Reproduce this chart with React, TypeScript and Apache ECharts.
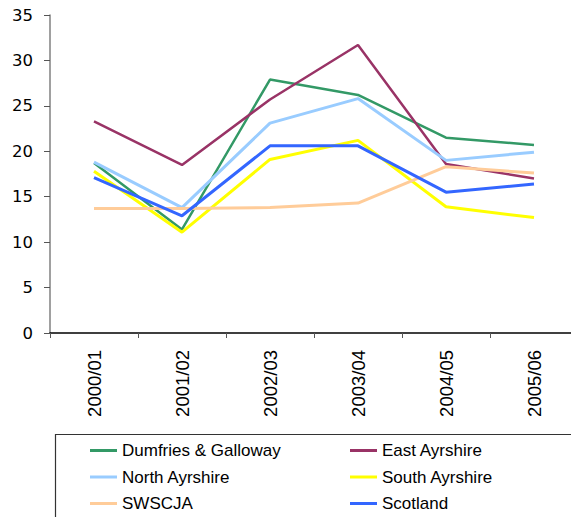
import React, { useEffect, useRef } from "react";
import * as echarts from "echarts";

const categories = ["2000/01", "2001/02", "2002/03", "2003/04", "2004/05", "2005/06"];
const yTicks = [0, 5, 10, 15, 20, 25, 30, 35];

const dumfries = [18.7, 11.4, 27.9, 26.2, 21.5, 20.7];
const eastAyrshire = [23.3, 18.5, 25.7, 31.7, 18.6, 17.0];
const northAyrshire = [18.8, 13.8, 23.1, 25.8, 19.0, 19.9];
const southAyrshire = [17.8, 11.1, 19.1, 21.2, 13.9, 12.7];
const swscja = [13.7, 13.7, 13.8, 14.3, 18.3, 17.6];
const scotland = [17.1, 12.9, 20.6, 20.6, 15.5, 16.4];

const seriesNames = [
  "Dumfries & Galloway",
  "East Ayrshire",
  "North Ayrshire",
  "South Ayrshire",
  "SWSCJA",
  "Scotland",
];
const seriesData = [dumfries, eastAyrshire, northAyrshire, southAyrshire, swscja, scotland];
const seriesColors = ["#339966", "#993366", "#99CCFF", "#FFFF00", "#FFCC99", "#3366FF"];
const seriesWidths = [2.5, 2.5, 3, 3, 3, 3];

export default function App() {
  const ref = useRef<HTMLDivElement>(null);
  useEffect(() => {
    if (!ref.current) return;
    const chart = echarts.init(ref.current, null, { renderer: "svg" });
    const legendText = { fontFamily: "Liberation Sans", fontSize: 17, color: "#000", lineHeight: 18 };
    chart.setOption({
      animation: false,
      backgroundColor: "#fff",
      grid: { left: 50, top: 15, right: 0, bottom: 184, containLabel: false },
      xAxis: {
        type: "category",
        data: categories,
        boundaryGap: true,
        axisLine: { lineStyle: { color: "#000", width: 1.5 } },
        axisTick: { show: true, length: 5, lineStyle: { color: "#555" } },
        axisLabel: {
          rotate: 90,
          margin: 17,
          fontFamily: "Liberation Sans",
          fontSize: 18.5,
          color: "#000",
        },
        splitLine: { show: false },
      },
      yAxis: {
        type: "value",
        min: yTicks[0],
        max: yTicks[yTicks.length - 1],
        interval: 5,
        axisLine: { show: true, lineStyle: { color: "#808080", width: 1.5 } },
        axisTick: { show: true, length: 6, lineStyle: { color: "#555" } },
        axisLabel: {
          margin: 17,
          fontFamily: "DejaVu Sans",
          fontSize: 16.5,
          color: "#000",
        },
        splitLine: { show: false },
      },
      legend: [
        {
          orient: "vertical",
          left: 90,
          top: 441.5,
          padding: 0,
          itemWidth: 27,
          itemHeight: 3,
          itemGap: 8.5,
          icon: "rect",
          textStyle: legendText,
          data: [seriesNames[0], seriesNames[2], seriesNames[4]],
        },
        {
          orient: "vertical",
          left: 350,
          top: 441.5,
          padding: 0,
          itemWidth: 27,
          itemHeight: 3,
          itemGap: 8.5,
          icon: "rect",
          textStyle: legendText,
          data: [seriesNames[1], seriesNames[3], seriesNames[5]],
        },
      ],
      graphic: [
        {
          type: "rect",
          shape: { x: 55.5, y: 434.5, width: 600, height: 200 },
          style: { fill: "none", stroke: "#333", lineWidth: 1.2 },
          silent: true,
        },
      ],
      series: seriesNames.map((name, i) => ({
        name,
        type: "line",
        data: seriesData[i],
        showSymbol: false,
        symbol: "none",
        color: seriesColors[i],
        lineStyle: { color: seriesColors[i], width: seriesWidths[i] },
      })),
    });
    return () => chart.dispose();
  }, []);
  return (
    <div style={{ position: "absolute", left: 0, top: 0, width: 571, height: 517, overflow: "hidden", background: "#fff" }}>
      <div ref={ref} style={{ width: 578, height: 517 }} />
    </div>
  );
}
